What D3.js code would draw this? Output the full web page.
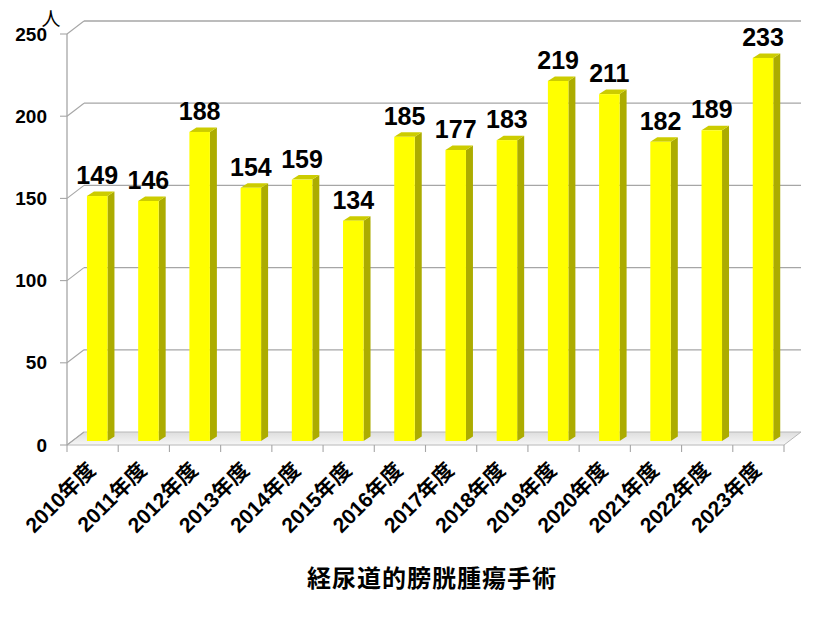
<!DOCTYPE html>
<html><head><meta charset="utf-8">
<script src="https://cdn.jsdelivr.net/npm/d3@7"></script>
<style>body{margin:0;background:#fff;}svg{display:block;}</style>
</head><body>
<script>
const categories = ["2010年度","2011年度","2012年度","2013年度","2014年度","2015年度","2016年度","2017年度","2018年度","2019年度","2020年度","2021年度","2022年度","2023年度"];
const values = [149,146,188,154,159,134,185,177,183,219,211,182,189,233];
const yTicks = [0,50,100,150,200,250];
const unitLabel = "人";
const chartTitle = "経尿道的膀胱腫瘍手術";

const W = 824, H = 618;
const svg = d3.select("body").append("svg").attr("width", W).attr("height", H);

// front plane
const x = d3.scaleBand().domain(categories).range([67, 784]);
const y = d3.scaleLinear().domain([0, 250]).range([445, 34]);
const depth = {dx: 17, dy: -13};     // back wall offset
const barOff = {dx: 4.6, dy: -4};     // bar front face offset
const barDepth = {dx: 7, dy: -4.5};
const barW = 20.5;
const font = "'Liberation Sans', Arial, sans-serif";
const cjk = "'Noto Sans CJK JP', 'Liberation Sans', sans-serif";

const defs = svg.append("defs");
const fg = defs.append("linearGradient").attr("id","floorG").attr("x1",0).attr("y1",0).attr("x2",0).attr("y2",1);
fg.append("stop").attr("offset","0%").attr("stop-color","#dedede");
fg.append("stop").attr("offset","100%").attr("stop-color","#f6f6f6");

const xL = x.range()[0], xR = x.range()[1];
// floor
const floorPts = [[xL, y(0)], [xR, y(0)], [xR + depth.dx, y(0) + depth.dy], [xL + depth.dx, y(0) + depth.dy]];
svg.append("polygon").attr("points", floorPts.map(p => p.join(",")).join(" "))
  .attr("fill", "url(#floorG)").attr("stroke", "#b8b8b8").attr("stroke-width", 1);

// gridlines on back wall + left side diagonals
yTicks.forEach(t => {
  const yf = y(t), yb = yf + depth.dy;
  if (t > 0) {
    svg.append("line").attr("x1", xL + depth.dx).attr("x2", xR + depth.dx).attr("y1", yb).attr("y2", yb)
      .attr("stroke", "#a6a6a6").attr("stroke-width", 1.3);
  }
  svg.append("line").attr("x1", xL).attr("y1", yf).attr("x2", xL + depth.dx).attr("y2", yb)
    .attr("stroke", "#a6a6a6").attr("stroke-width", 1.1);
  svg.append("line").attr("x1", xL - 7).attr("x2", xL).attr("y1", yf).attr("y2", yf)
    .attr("stroke", "#a6a6a6").attr("stroke-width", 1.1);
  svg.append("text").attr("x", 47).attr("y", yf).attr("text-anchor", "end").attr("dominant-baseline", "central")
    .attr("font-family", font).attr("font-weight", "bold").attr("font-size", 19).attr("fill", "#000").text(t);
});
// front vertical axis
svg.append("line").attr("x1", xL).attr("x2", xL).attr("y1", y(250)).attr("y2", y(0))
  .attr("stroke", "#a6a6a6").attr("stroke-width", 1.3);
// category ticks
const bounds = categories.map(c => x(c)).concat([xR]);
bounds.forEach(bx => {
  svg.append("line").attr("x1", bx).attr("x2", bx).attr("y1", y(0)).attr("y2", y(0) + 7)
    .attr("stroke", "#a6a6a6").attr("stroke-width", 1.1);
});

// bars
const bars = svg.append("g");
categories.forEach((c, i) => {
  const v = values[i];
  const cx = x(c) + x.bandwidth() / 2 + barOff.dx;
  const x0 = cx - barW / 2, x1 = cx + barW / 2;
  const yb = y(0) + barOff.dy, yt = y(v) + barOff.dy;
  const g = bars.append("g");
  g.append("polygon").attr("points", [[x1, yb], [x1 + barDepth.dx, yb + barDepth.dy], [x1 + barDepth.dx, yt + barDepth.dy], [x1, yt]].map(p => p.join(",")).join(" "))
    .attr("fill", "#acac00");
  g.append("polygon").attr("points", [[x0, yt], [x1, yt], [x1 + barDepth.dx, yt + barDepth.dy], [x0 + barDepth.dx, yt + barDepth.dy]].map(p => p.join(",")).join(" "))
    .attr("fill", "#cccc00");
  g.append("rect").attr("x", x0).attr("y", yt).attr("width", barW).attr("height", yb - yt).attr("fill", "#ffff00");
  g.append("text").attr("x", cx).attr("y", yt - 12).attr("text-anchor", "middle")
    .attr("font-family", font).attr("font-weight", "bold").attr("font-size", 25).attr("fill", "#000").text(v);
  const lx = x(c) + x.bandwidth() / 2 - 1, ly = 466;
  svg.append("text").attr("transform", `translate(${lx},${ly}) rotate(-45)`).attr("text-anchor", "end")
    .attr("dominant-baseline", "central").attr("font-family", "'Liberation Sans', 'Noto Sans CJK JP', sans-serif")
    .attr("font-weight", "bold").attr("font-size", 21).attr("fill", "#000").text(c);
});

svg.append("text").attr("x", 51).attr("y", 17).attr("text-anchor", "middle").attr("dominant-baseline", "central")
  .attr("font-family", cjk).attr("font-size", 19).attr("fill", "#000").text(unitLabel);

svg.append("text").attr("x", 432).attr("y", 576).attr("text-anchor", "middle").attr("dominant-baseline", "central")
  .attr("font-family", cjk).attr("font-weight", "bold").attr("font-size", 24).attr("letter-spacing", 1).attr("fill", "#000").text(chartTitle);
</script>
</body></html>
